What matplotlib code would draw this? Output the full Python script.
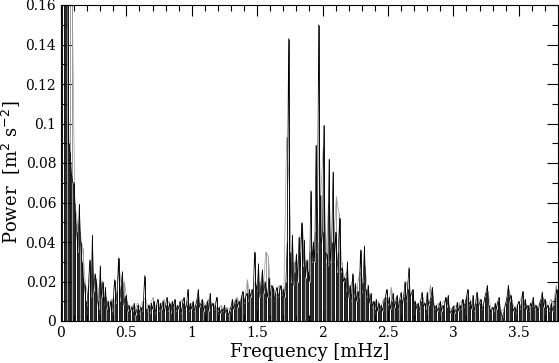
import matplotlib
matplotlib.use("Agg")
import matplotlib.pyplot as plt
from matplotlib.ticker import MultipleLocator, FuncFormatter
import numpy as np

# Black spectrum, sampled every 0.01 mHz from 0.00 to 3.80
freq_a_start, freq_a_step = 0.0, 0.01
power_a = [
    0.20, 0.30, 0.22, 0.28, 0.25, 0.19, 0.09, 0.085, 0.075, 0.07,
    0.07, 0.055, 0.045, 0.035, 0.059, 0.04, 0.03, 0.022, 0.018, 0.01,
    0.008, 0.018, 0.031, 0.012, 0.0435, 0.015, 0.024, 0.02, 0.01, 0.006,
    0.028, 0.012, 0.02, 0.008, 0.017, 0.006, 0.01, 0.004, 0.01, 0.005,
    0.012, 0.021, 0.009, 0.015, 0.032, 0.01, 0.018, 0.025, 0.008, 0.012,
    0.013, 0.005, 0.008, 0.004, 0.007, 0.005, 0.009, 0.003, 0.006, 0.008,
    0.004, 0.007, 0.005, 0.01, 0.023, 0.006, 0.005, 0.008, 0.004, 0.009,
    0.006, 0.01, 0.004, 0.008, 0.011, 0.005, 0.009, 0.006, 0.01, 0.004,
    0.008, 0.012, 0.005, 0.009, 0.004, 0.01, 0.007, 0.011, 0.005, 0.008,
    0.006, 0.01, 0.004, 0.009, 0.012, 0.006, 0.008, 0.016, 0.005, 0.009,
    0.006, 0.01, 0.005, 0.008, 0.011, 0.016, 0.007, 0.009, 0.011, 0.005,
    0.008, 0.006, 0.01, 0.005, 0.014, 0.007, 0.009, 0.006, 0.008, 0.012,
    0.005, 0.007, 0.004, 0.006, 0.005, 0.008, 0.004, 0.006, 0.003, 0.005,
    0.007, 0.011, 0.006, 0.009, 0.011, 0.007, 0.01, 0.008, 0.012, 0.015,
    0.009, 0.012, 0.014, 0.01, 0.016, 0.012, 0.016, 0.014, 0.035, 0.018,
    0.015, 0.029, 0.012, 0.018, 0.026, 0.014, 0.02, 0.016, 0.012, 0.022,
    0.012, 0.018, 0.017, 0.01, 0.014, 0.017, 0.012, 0.015, 0.018, 0.013,
    0.016, 0.012, 0.02, 0.04, 0.143, 0.035, 0.02, 0.0435, 0.018, 0.025,
    0.034, 0.02, 0.0425, 0.025, 0.0496, 0.028, 0.041, 0.022, 0.031, 0.025,
    0.02, 0.066, 0.03, 0.04, 0.03, 0.089, 0.035, 0.150, 0.064, 0.038,
    0.045, 0.099, 0.035, 0.034, 0.028, 0.082, 0.03, 0.04, 0.0755, 0.03,
    0.045, 0.025, 0.035, 0.052, 0.025, 0.027, 0.02, 0.022, 0.015, 0.030,
    0.012, 0.018, 0.01, 0.024, 0.012, 0.019, 0.01, 0.015, 0.012, 0.036,
    0.014, 0.02, 0.038, 0.016, 0.012, 0.018, 0.009, 0.014, 0.007, 0.01,
    0.006, 0.011, 0.005, 0.009, 0.006, 0.008, 0.005, 0.01, 0.012, 0.016,
    0.008, 0.012, 0.006, 0.01, 0.014, 0.007, 0.01, 0.013, 0.006, 0.011,
    0.0145, 0.008, 0.012, 0.02, 0.01, 0.016, 0.027, 0.012, 0.014, 0.016,
    0.008, 0.01, 0.006, 0.009, 0.005, 0.01, 0.0145, 0.007, 0.009, 0.006,
    0.0145, 0.008, 0.01, 0.012, 0.017, 0.008, 0.006, 0.008, 0.005, 0.007,
    0.01, 0.005, 0.008, 0.006, 0.012, 0.007, 0.013, 0.006, 0.004, 0.006,
    0.0075, 0.004, 0.006, 0.0095, 0.005, 0.008, 0.006, 0.011, 0.007, 0.009,
    0.012, 0.016, 0.008, 0.01, 0.006, 0.013, 0.005, 0.009, 0.0147, 0.007,
    0.009, 0.011, 0.006, 0.008, 0.012, 0.0147, 0.018, 0.008, 0.006, 0.004,
    0.007, 0.005, 0.009, 0.006, 0.01, 0.012, 0.005, 0.003, 0.002, 0.006,
    0.009, 0.012, 0.018, 0.01, 0.013, 0.008, 0.005, 0.007, 0.004, 0.008,
    0.01, 0.006, 0.009, 0.015, 0.007, 0.011, 0.006, 0.008, 0.005, 0.009,
    0.007, 0.012, 0.006, 0.008, 0.007, 0.005, 0.009, 0.011, 0.0147, 0.007,
    0.011, 0.006, 0.008, 0.005, 0.007, 0.009, 0.005, 0.008, 0.012, 0.016,
    0.01,
]

# Grey spectrum, sampled every 0.02 mHz from 0.005
freq_b_start, freq_b_step = 0.005, 0.02
power_b = [
    0.18, 0.26, 0.22, 0.20, 0.17, 0.06, 0.05, 0.045, 0.037, 0.02,
    0.012, 0.025, 0.02, 0.022, 0.015, 0.02, 0.01, 0.012, 0.008, 0.011,
    0.009, 0.014, 0.028, 0.015, 0.02, 0.01, 0.006, 0.008, 0.006, 0.009,
    0.007, 0.01, 0.012, 0.007, 0.009, 0.012, 0.006, 0.009, 0.008, 0.011,
    0.007, 0.01, 0.006, 0.009, 0.007, 0.008, 0.011, 0.006, 0.01, 0.008,
    0.009, 0.007, 0.012, 0.006, 0.01, 0.008, 0.011, 0.006, 0.009, 0.007,
    0.006, 0.008, 0.005, 0.007, 0.006, 0.008, 0.01, 0.012, 0.009, 0.013,
    0.011, 0.021, 0.012, 0.015, 0.02, 0.016, 0.02, 0.015, 0.035, 0.033,
    0.014, 0.016, 0.012, 0.018, 0.015, 0.017, 0.093, 0.069, 0.025, 0.03,
    0.028, 0.035, 0.05, 0.03, 0.025, 0.035, 0.03, 0.045, 0.04, 0.064,
    0.0876, 0.03, 0.06, 0.035, 0.04, 0.063, 0.0547, 0.03, 0.022, 0.025,
    0.015, 0.02, 0.014, 0.018, 0.025, 0.02, 0.028, 0.015, 0.012, 0.009,
    0.008, 0.01, 0.007, 0.011, 0.012, 0.009, 0.017, 0.01, 0.012, 0.009,
    0.011, 0.014, 0.02, 0.013, 0.015, 0.009, 0.008, 0.01, 0.012, 0.008,
    0.011, 0.018, 0.01, 0.007, 0.009, 0.008, 0.01, 0.011, 0.007, 0.006,
    0.008, 0.007, 0.009, 0.01, 0.008, 0.013, 0.011, 0.009, 0.008, 0.012,
    0.01, 0.008, 0.012, 0.015, 0.007, 0.006, 0.008, 0.01, 0.005, 0.006,
    0.01, 0.016, 0.011, 0.007, 0.008, 0.009, 0.013, 0.01, 0.007, 0.008,
    0.01, 0.008, 0.007, 0.01, 0.012, 0.01, 0.007, 0.011, 0.008, 0.018,
]

freq_a = freq_a_start + freq_a_step * np.arange(len(power_a))
freq_b = freq_b_start + freq_b_step * np.arange(len(power_b))

plt.rcParams['font.family'] = ['DejaVu Serif']
fig = plt.figure(figsize=(5.59, 3.63), dpi=100)
ax = fig.add_axes([61/559, 42/363, 497/559, 316/363])

grey = '#9a9a9a'
ax.vlines(freq_b, 0, power_b, color=grey, lw=0.7)
ax.plot(freq_b, power_b, color=grey, lw=0.5)
ax.vlines(freq_a, 0, power_a, color='black', lw=0.6)
ax.plot(freq_a, power_a, color='black', lw=0.5)

ax.set_xlim(0, 3.8)
ax.set_ylim(0, 0.16)
ax.xaxis.set_major_locator(MultipleLocator(0.5))
ax.xaxis.set_minor_locator(MultipleLocator(0.1))
ax.yaxis.set_major_locator(MultipleLocator(0.02))
ax.yaxis.set_minor_locator(MultipleLocator(0.01))
fmt = FuncFormatter(lambda v, p: '0' if abs(v) < 1e-9 else f'{v:g}')
ax.xaxis.set_major_formatter(fmt)
ax.yaxis.set_major_formatter(fmt)
ax.tick_params(which='both', direction='in', top=True, right=True, labelsize=10, width=0.8)
ax.tick_params(which='major', length=8)
ax.tick_params(which='minor', length=4)
for s in ax.spines.values():
    s.set_linewidth(0.8)
ax.set_xlabel('Frequency [mHz]', fontsize=13, labelpad=2)
fig.text(11/559, 1 - 172/363, 'Power  [m$^2$ s$^{-2}$]', fontsize=13,
         rotation=90, ha='center', va='center')

fig.savefig('out.png', dpi=100)
